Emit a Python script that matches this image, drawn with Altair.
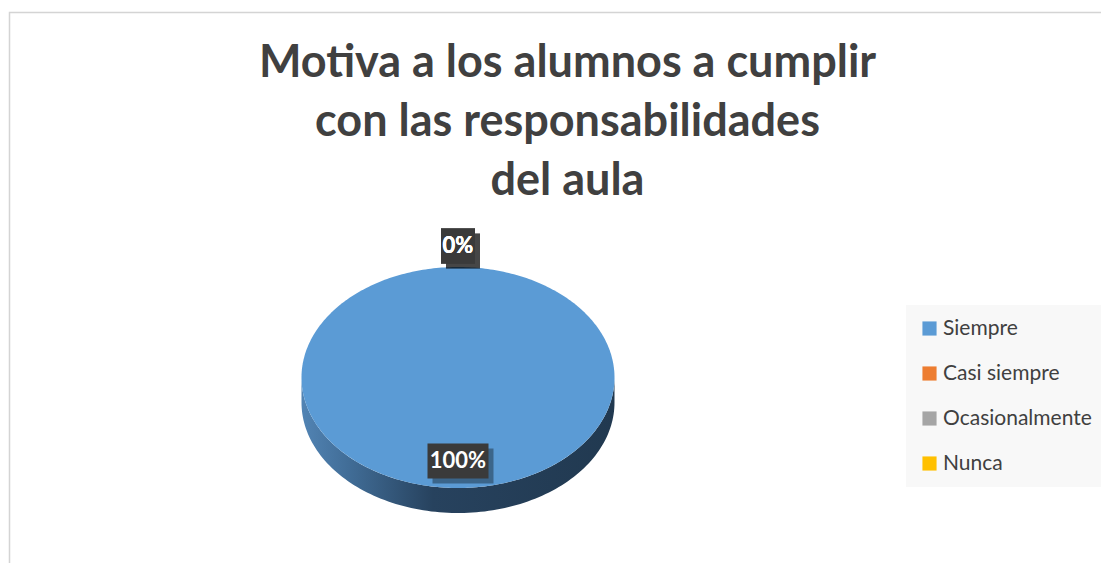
import altair as alt
import numpy as np
import pandas as pd

# ---- data ----
categories = ["Siempre", "Casi siempre", "Ocasionalmente", "Nunca"]
shares = [100, 0, 0, 0]
labels = ["100%", "0%", "0%", "0%"]
colors = ["#5B9BD5", "#ED7D31", "#A5A5A5", "#FFC000"]
title_lines = ["Motiva a los alumnos a cumplir", "con las responsabilidades", "del aula"]

# ---- layout (page pixel coordinates) ----
W, H = 1093, 555
CX, CY, RX, RY, DEPTH = 458, 377.5, 156.5, 110.5, 25

total = float(sum(shares))
top_rows, side_rows, lab_rows = [], [], []
start = 0.0
for i, (cat, s, lab) in enumerate(zip(categories, shares, labels)):
    a0 = start / total * 2 * np.pi
    a1 = (start + s) / total * 2 * np.pi
    start += s
    n = max(2, int(360 * s / total) + 2)
    angs = np.linspace(a0, a1, n)
    pts = [] if s >= total else [(CX, CY)]
    pts += [(CX + RX * np.sin(t), CY - RY * np.cos(t)) for t in angs]
    pts.append(pts[0])
    for k, (px, py) in enumerate(pts):
        top_rows.append({"cat": cat, "k": k, "x": px, "y": py})
    # front side of the 3D slice
    lo, hi = max(a0, np.pi / 2), min(a1, 3 * np.pi / 2)
    if hi > lo:
        for t in np.linspace(lo, hi, 120):
            yy = CY - RY * np.cos(t)
            side_rows.append({"cat": cat, "x": CX + RX * np.sin(t), "y": yy, "y2": yy + DEPTH})
    m = (a0 + a1) / 2
    f = 0.755 if s / total >= 0.1 else 1.19
    lx, ly = CX + f * RX * np.sin(m), CY - f * RY * np.cos(m)
    hw = 3.5 + 6.75 * len(lab)
    lab_rows.append({"cat": cat, "label": lab, "lx": lx, "ly": ly,
                     "bx": lx - hw, "bx2": lx + hw, "by": ly - 17.5, "by2": ly + 17.5,
                     "sx": lx - hw + 5, "sx2": lx + hw + 5, "sy": ly - 12.5, "sy2": ly + 22.5})

top_df = pd.DataFrame(top_rows)
side_df = pd.DataFrame(side_rows)
lab_df = pd.DataFrame(lab_rows)
title_df = pd.DataFrame({"t": title_lines, "y": [77 + 59 * i for i in range(len(title_lines))]})

xs = alt.Scale(domain=[8, 8 + W], nice=False, zero=False)
ys = alt.Scale(domain=[8, 8 + H], nice=False, zero=False, reverse=True)
X = lambda f: alt.X(f, type="quantitative", scale=xs, axis=None)
Y = lambda f: alt.Y(f, type="quantitative", scale=ys, axis=None)

frame = alt.Chart(pd.DataFrame({"a": [0]})).mark_rect(
    fill=None, stroke="#d4d4d4", strokeWidth=1.5
).encode(x=alt.value(1.5), y=alt.value(4.5), x2=alt.value(W + 20), y2=alt.value(H + 20))

title = alt.Chart(title_df).mark_text(
    font="Lato", fontWeight="bold", fontSize=45, color="#404040", baseline="alphabetic", align="center"
).encode(x=alt.value(567.5 - 8), y=Y("y:Q"), text="t:N")

grad = alt.Gradient(
    gradient="linear", x1=0, x2=1, y1=0, y2=0,
    stops=[alt.GradientStop(color="#5284b4", offset=0),
           alt.GradientStop(color="#416d97", offset=0.15),
           alt.GradientStop(color="#27425e", offset=0.42),
           alt.GradientStop(color="#213950", offset=1)],
)
side = alt.Chart(side_df).mark_area(color=grad).encode(
    x=X("x"), y=Y("y"), y2="y2:Q", detail="cat:N"
)

top = alt.Chart(top_df).mark_line(filled=True, strokeWidth=0).encode(
    x=X("x"), y=Y("y"), order="k:Q",
    color=alt.Color("cat:N", scale=alt.Scale(domain=categories, range=colors),
                    legend=alt.Legend(title=None, orient="none", legendX=898, legendY=297,
                                      fillColor="#f8f8f8", padding=13, symbolType="square",
                                      symbolSize=200, symbolStrokeWidth=0, symbolOpacity=1,
                                      labelFont="Lato", labelFontSize=21, labelColor="#404040",
                                      labelOffset=3, rowPadding=23, labelLimit=300)),
)

shadow = alt.Chart(lab_df).mark_rect(fill="black", opacity=0.35).encode(
    x=X("sx"), x2="sx2:Q", y=Y("sy"), y2="sy2:Q"
)
box = alt.Chart(lab_df).mark_rect(fill="#3a3a3a").encode(
    x=X("bx"), x2="bx2:Q", y=Y("by"), y2="by2:Q"
)
text = alt.Chart(lab_df).mark_text(
    font="Lato", fontWeight="bold", fontSize=22, color="white", baseline="middle", align="center"
).encode(x=X("lx"), y=Y("ly"), text="label:N")

chart = alt.layer(frame, title, side, top, shadow, box, text).properties(
    width=W, height=H, autosize="none", padding=0
).configure_view(strokeWidth=0)

chart.save("out.html", embed_options={"renderer": "svg", "actions": False})
